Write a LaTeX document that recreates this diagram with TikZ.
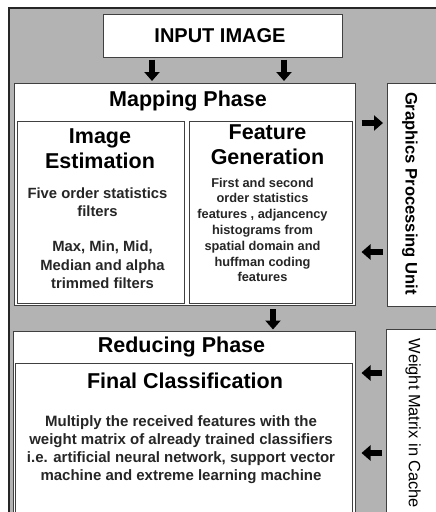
\documentclass[tikz,border=0pt]{standalone}
\usepackage{fontspec}
\setmainfont{Liberation Sans}
\usetikzlibrary{arrows.meta}

\definecolor{framegray}{RGB}{179,179,179}
\tikzset{
  panel/.style={draw=black!75, line width=1pt, fill=white, inner sep=0pt, outer sep=0pt},
  heading/.style={font=\bfseries\fontsize{21.5}{25}\selectfont, align=center, inner sep=0pt},
  bodytext/.style={font=\bfseries\fontsize{14.8}{18.5}\selectfont, align=center, inner sep=0pt, text=black!85},
  sidetext/.style={font=\fontsize{16.4}{19}\selectfont, inner sep=0pt, rotate=-90},
  blockarrow/.style={line width=6pt, -{Triangle[width=15pt,length=9pt]}, black},
}

\begin{document}
\begin{tikzpicture}[x=1pt, y=-1pt]
    \useasboundingbox (0,0) rectangle (436,512);
    \clip (0,0) rectangle (436,512);
    \fill[framegray] (9,8) rectangle (440,520);
    \draw[line width=1.6pt, black!85] (440,8) -- (9,8) -- (9,520);

    % input
    \node[panel, minimum width=239pt, minimum height=43pt] (input) at (222.5,35.5) {};
    \node[heading, font=\bfseries\fontsize{20}{24}\selectfont] (inputtext) at (220,36) {INPUT IMAGE};

    % mapping phase
    \node[panel, minimum width=341pt, minimum height=222pt] (mapping) at (184.5,194) {};
    \node[heading] (mappingtitle) at (188,101) {Mapping Phase};
    \node[panel, minimum width=167pt, minimum height=182pt] (estim) at (100.5,212) {};
    \node[panel, minimum width=163pt, minimum height=182pt] (featgen) at (270.5,212) {};
    \node[heading] (estimtitle) at (100,149) {Image\\Estimation};
    \node[heading] (featgentitle) at (267.5,145) {Feature\\Generation};
    \node[bodytext] (estimbodya) at (97.5,202) {Five order statistics\\filters};
    \node[bodytext] (estimbodyb) at (102.5,265) {Max, Min, Mid,\\Median and alpha\\trimmed filters};
    \node[bodytext, font=\bfseries\fontsize{12.8}{15.8}\selectfont] (featgenbody) at (262.5,230) {First and second\\order statistics\\features , adjancency\\histograms from\\spatial domain and\\huffman coding\\features};

    % reducing phase
    \node[panel, minimum width=342pt, minimum height=189pt] (reducing) at (184,425.5) {};
    \node[heading] (reducingtitle) at (181.5,347) {Reducing Phase};
    \node[panel, minimum width=337pt, minimum height=157pt] (finalcls) at (183.5,441.5) {};
    \node[heading] (finalclstitle) at (185,381) {Final Classification};
    \node[bodytext, font=\bfseries\fontsize{15}{18}\selectfont] (finalclsbody) at (181,450) {Multiply the received features with the\\weight matrix of already trained classifiers\\i.e. artificial neural network, support vector\\machine and extreme learning machine};

    % side units
    \node[panel, minimum width=53pt, minimum height=223pt] (gpu) at (413.5,194.5) {};
    \node[sidetext, font=\bfseries\fontsize{16.6}{19}\selectfont] (gputext) at (410,193.5) {Graphics Processing Unit};
    \node[panel, minimum width=54pt, minimum height=191pt] (cache) at (413,424.5) {};
    \node[sidetext] (cachetext) at (413,423.5) {Weight Matrix in Cache};

    % arrows
    \coordinate (splitl) at (152,0);
    \coordinate (splitr) at (284,0);
    \coordinate (merge) at (273,0);
    \coordinate (gpuin) at (0,123);
    \coordinate (gpuout) at (0,252);
    \coordinate (cachea) at (0,373);
    \coordinate (cacheb) at (0,453);
    \draw[blockarrow, shorten <=2.5pt, shorten >=2pt] (input.south -| splitl) -- (mapping.north -| splitl);
    \draw[blockarrow, shorten <=2.5pt, shorten >=2pt] (input.south -| splitr) -- (mapping.north -| splitr);
    \draw[blockarrow, shorten <=4pt, shorten >=1.5pt] (mapping.south -| merge) -- (reducing.north -| merge);
    \draw[blockarrow, shorten <=6.5pt, shorten >=4pt] (mapping.east |- gpuin) -- (gpu.west |- gpuin);
    \draw[blockarrow, shorten <=4pt, shorten >=6.5pt] (gpu.west |- gpuout) -- (mapping.east |- gpuout);
    \draw[blockarrow, shorten <=4pt, shorten >=6.5pt] (cache.west |- cachea) -- (reducing.east |- cachea);
    \draw[blockarrow, shorten <=4pt, shorten >=6.5pt] (cache.west |- cacheb) -- (reducing.east |- cacheb);
\end{tikzpicture}
\end{document}
